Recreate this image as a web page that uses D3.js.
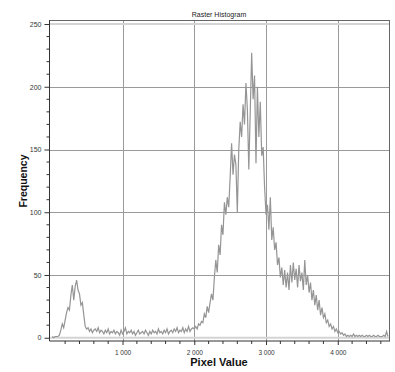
<!DOCTYPE html>
<html><head><meta charset="utf-8">
<script src="https://cdn.jsdelivr.net/npm/d3@7"></script>
<style>body{margin:0;background:#fff}svg{display:block}</style>
</head><body>
<script>
const title = "Raster Histogram";
const xTitle = "Pixel Value";
const yTitle = "Frequency";
const binStart = 20, binStep = 20;
const xTickValues = [1000, 2000, 3000, 4000];
const xTickLabels = ["1 000", "2 000", "3 000", "4 000"];
const yTickValues = [0, 50, 100, 150, 200, 250];
const yTickLabels = ["0", "50", "100", "150", "200", "250"];
// frequencies per bin (value = binStart + i*binStep)
const freqLowPeak = [1,0,1,1,1,2, 6,11,8,14,20,24,22,34,42,30,41,46,38,35,26,28,18,9,7];
const freqBaseline = [8,5,7,4,6,7,5,8,4,6, 5,3,6,4,7,3,5,4,6,3, 5,4,2,6,3,5,8,3,5,4,
  6,3,5,2,4,6,3,4,5,3, 6,4,2,5,3,6,4,5,3,7, 4,5,3,6,4,7,3,5,6,4, 7,5,8,4,6,5,8,4,7,5, 9,5,7,8];
const freqRise = [7,9,7,11,10, 13,12,19,16,25, 20,28,35,30,48, 62,52,74,66,90, 82,108,98,112,104];
const freqPeak = [128,155,130,146,138, 100,150,172,160,186, 170,203,182,134,180, 227,190,209,139,200, 160,188,145,152];
const freqFall = [120,98,106,86,112,78,88,70,76,58,64,48];
const freqShoulder = [56,42,54,40,52,38,58,44,60,46,55,40,58,45,52,38,62,42,50,36];
const freqTailDrop = [44,30,38,26,34, 22,30,18,24,16, 19,12,14,9,11, 7,9,5,7,4, 5,3,4,2,3];
const freqTail = [1,2,1,2,1, 3,1,2,1,2, 1,2,1,1,2, 1,2,1,1,2, 1,1,2,1,1, 1,2,1,5,1];

const freqs = [].concat(freqLowPeak, freqBaseline, freqRise, freqPeak, freqFall, freqShoulder, freqTailDrop, freqTail);
const data = freqs.map((f, i) => ({v: binStart + i * binStep, f}));

const W = 395, H = 372;
const L = 49.5, R = 390, T = 20, B = 341;
const svg = d3.select("body").append("svg").attr("width", W).attr("height", H);
const x = d3.scaleLinear().domain([-18, 4728]).range([L, R]);
const y = d3.scaleLinear().domain([-2.6, 253.2]).range([B, T]);
const font = "'Liberation Sans', Arial, sans-serif";

// gridlines
const g = svg.append("g");
g.selectAll("line.vx").data(xTickValues).join("line")
  .attr("x1", d => Math.round(x(d)) + 0.5).attr("x2", d => Math.round(x(d)) + 0.5)
  .attr("y1", T).attr("y2", B).attr("stroke", "#9a9a9a").attr("stroke-width", 1);
g.selectAll("line.hy").data(yTickValues.filter(d => d > 0 && d < 250)).join("line")
  .attr("x1", L).attr("x2", R)
  .attr("y1", d => Math.round(y(d)) + 0.5).attr("y2", d => Math.round(y(d)) + 0.5)
  .attr("stroke", "#9a9a9a").attr("stroke-width", 1);
g.selectAll("line.ex").data([0, 250]).join("line")
  .attr("x1", L).attr("x2", R)
  .attr("y1", d => y(d)).attr("y2", d => y(d))
  .attr("stroke", "#d4d4d4").attr("stroke-width", 2);

// border
svg.append("line").attr("x1", L).attr("x2", R).attr("y1", T + 0.5).attr("y2", T + 0.5).attr("stroke", "#666");
svg.append("line").attr("x1", R - 0.5).attr("x2", R - 0.5).attr("y1", T).attr("y2", B).attr("stroke", "#666");

// data line
svg.append("path").datum(data)
  .attr("d", d3.line().x(d => x(d.v)).y(d => y(d.f)))
  .attr("fill", "none").attr("stroke", "#959595").attr("stroke-width", 1.2);

// axes
const yMinor = d3.range(0, 251, 10).filter(d => d % 50 !== 0);
const yAx = d3.axisLeft(y).tickValues(yTickValues).tickFormat((d, i) => yTickLabels[i]).tickSize(5).tickPadding(3);
const yg = svg.append("g").attr("transform", `translate(${L},0)`).call(yAx);
yg.select(".domain").attr("d", `M0,${T}V${B}`).attr("stroke", "#333");
yg.selectAll(".tick line").attr("stroke", "#333");
yg.selectAll("text").attr("font-family", font).attr("font-size", 7).attr("fill", "#333");
yg.selectAll("line.minor").data(yMinor).join("line").attr("class", "minor")
  .attr("x1", -3).attr("x2", 0).attr("y1", d => y(d)).attr("y2", d => y(d)).attr("stroke", "#333");

const xMinor = d3.range(200, 4701, 200).filter(d => d % 1000 !== 0);
const xAx = d3.axisBottom(x).tickValues(xTickValues).tickFormat((d, i) => xTickLabels[i]).tickSize(4).tickPadding(5);
const xg = svg.append("g").attr("transform", `translate(0,${B})`).call(xAx);
xg.select(".domain").attr("d", `M${L},0H${R}`).attr("stroke", "#333");
xg.selectAll(".tick line").attr("stroke", "#333");
xg.selectAll("text").attr("font-family", font).attr("font-size", 6.5).attr("fill", "#333").attr("xml:space", "preserve").style("white-space", "pre");
xg.selectAll("line.minor").data(xMinor).join("line").attr("class", "minor")
  .attr("x1", d => x(d)).attr("x2", d => x(d)).attr("y1", 0).attr("y2", 3).attr("stroke", "#333");

// titles
svg.append("text").attr("x", 219).attr("y", 16.5).attr("text-anchor", "middle")
  .attr("font-family", font).attr("font-size", 7).attr("fill", "#222").text(title);
svg.append("text").attr("x", 219).attr("y", 366).attr("text-anchor", "middle")
  .attr("font-family", font).attr("font-size", 11).attr("font-weight", "bold").attr("fill", "#111").text(xTitle);
svg.append("text").attr("transform", "translate(27,181) rotate(-90)").attr("text-anchor", "middle")
  .attr("font-family", font).attr("font-size", 10.5).attr("font-weight", "bold").attr("fill", "#111").text(yTitle);
</script>
</body></html>
